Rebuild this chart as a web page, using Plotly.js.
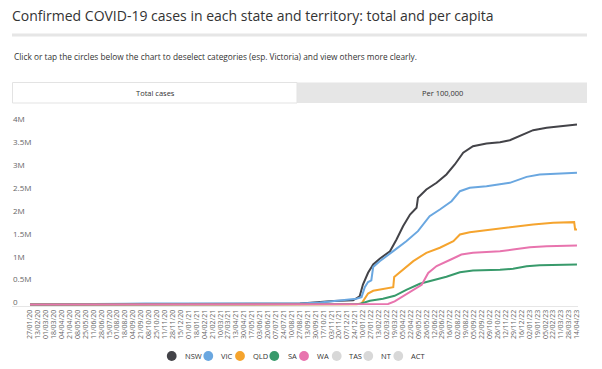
<!DOCTYPE html>
<html>
<head>
<meta charset="utf-8">
<script src="https://cdn.plot.ly/plotly-3.0.1.min.js"></script>
<style>html,body{margin:0;padding:0;background:#fff;}#chart{width:602px;height:369px;}</style>
</head>
<body>
<div id="chart"></div>
<script>
// ---------- data (cumulative confirmed cases) ----------
const nswDates = ['2020-01-27','2020-03-20','2020-04-20','2020-12-31','2021-06-20','2021-07-20','2021-08-28','2021-09-20','2021-10-10','2021-11-07','2021-12-20','2021-12-27','2022-01-03','2022-01-10','2022-01-21','2022-02-01','2022-02-15','2022-03-09','2022-03-23','2022-04-06','2022-04-21','2022-05-05','2022-05-08','2022-05-26','2022-06-17','2022-07-08','2022-07-26','2022-08-13','2022-09-03','2022-10-02','2022-10-31','2022-11-21','2022-12-12','2023-01-10','2023-02-08','2023-03-15','2023-04-14'];
const nswCases = [0,1000,3000,5000,5500,8000,20000,40000,60000,75000,90000,130000,181000,437000,693000,874000,999000,1165000,1421000,1711000,1967000,2114000,2332000,2514000,2660000,2842000,3060000,3316000,3460000,3519000,3548000,3591000,3679000,3810000,3862000,3897000,3934000];

const vicDates = ['2020-01-27','2020-06-20','2020-07-10','2020-07-31','2020-08-20','2020-09-30','2021-08-01','2021-08-28','2021-10-10','2021-11-07','2021-12-27','2022-01-07','2022-01-14','2022-01-21','2022-01-28','2022-02-01','2022-02-15','2022-03-16','2022-04-13','2022-05-08','2022-06-02','2022-06-24','2022-07-19','2022-08-06','2022-08-27','2022-10-02','2022-11-21','2022-12-27','2023-01-24','2023-04-14'];
const vicCases = [0,1800,3500,9000,17000,20000,20800,21500,45000,72000,125000,160000,380000,490000,530000,820000,947000,1166000,1384000,1603000,1930000,2077000,2258000,2477000,2550000,2586000,2659000,2790000,2842000,2879000];

const qldDates = ['2020-01-27','2021-12-20','2021-12-27','2022-01-07','2022-01-14','2022-01-21','2022-02-01','2022-03-02','2022-03-16','2022-03-18','2022-04-06','2022-04-28','2022-05-26','2022-06-24','2022-07-23','2022-08-06','2022-08-27','2022-10-02','2022-11-21','2023-01-10','2023-02-22','2023-04-08','2023-04-10','2023-04-14'];
const qldCases = [0,1000,3000,20000,120000,240000,300000,364000,380000,600000,765000,947000,1130000,1240000,1385000,1530000,1580000,1625000,1677000,1749000,1786000,1800000,1640000,1640000];

const saDates = ['2020-01-27','2021-12-20','2022-01-03','2022-01-25','2022-02-22','2022-03-19','2022-04-13','2022-05-12','2022-06-10','2022-07-08','2022-08-06','2022-09-03','2022-10-31','2022-11-28','2022-12-27','2023-01-24','2023-04-14'];
const saCases = [0,1000,10000,80000,125000,190000,320000,452000,531000,605000,706000,743000,758000,780000,837000,859000,874000];

const waDates = ['2020-01-27','2020-04-10','2021-12-31','2022-02-15','2022-03-05','2022-03-19','2022-04-13','2022-05-05','2022-05-16','2022-05-30','2022-06-17','2022-07-21','2022-08-09','2022-09-03','2022-10-31','2022-11-28','2023-01-03','2023-02-08','2023-04-14'];
const waCases = [0,500,1200,3000,10000,70000,220000,365000,430000,690000,840000,1000000,1093000,1130000,1166000,1202000,1253000,1275000,1290000];

// hidden (deselected) series
const tasDates = ['2020-01-27','2021-12-20','2022-01-15','2022-03-01','2022-05-01','2022-08-01','2022-12-31','2023-04-14'];
const tasCases = [0,100,15000,50000,150000,250000,280000,295000];
const ntDates = ['2020-01-27','2021-11-15','2022-01-20','2022-04-01','2022-08-01','2023-04-14'];
const ntCases = [0,100,20000,50000,90000,105000];
const actDates = ['2020-01-27','2021-08-15','2021-11-01','2022-01-15','2022-04-01','2022-08-01','2023-04-14'];
const actCases = [0,100,1900,30000,90000,190000,245000];

const seriesNames = ['NSW','VIC','QLD','SA','WA','TAS','NT','ACT'];
const seriesDates = [nswDates,vicDates,qldDates,saDates,waDates,tasDates,ntDates,actDates];
const seriesCases = [nswCases,vicCases,qldCases,saCases,waCases,tasCases,ntCases,actCases];
const seriesShown = [true,true,true,true,true,false,false,false];

const xTickLabels = ['27/01/20','13/02/20','01/03/20','18/03/20','04/04/20','21/04/20','08/05/20','25/05/20','11/06/20','28/06/20','15/07/20','01/08/20','18/08/20','04/09/20','21/09/20','08/10/20','25/10/20','11/11/20','28/11/20','15/12/20','01/01/21','18/01/21','04/02/21','21/02/21','10/03/21','27/03/21','13/04/21','30/04/21','17/05/21','03/06/21','20/06/21','07/07/21','24/07/21','10/08/21','27/08/21','13/09/21','30/09/21','17/10/21','03/11/21','20/11/21','07/12/21','24/12/21','10/01/22','27/01/22','13/02/22','02/03/22','19/03/22','05/04/22','22/04/22','09/05/22','26/05/22','12/06/22','29/06/22','16/07/22','02/08/22','19/08/22','05/09/22','22/09/22','09/10/22','26/10/22','12/11/22','29/11/22','16/12/22','02/01/23','19/01/23','05/02/23','22/02/23','11/03/23','28/03/23','14/04/23'];
const yTickVals = [0,500000,1000000,1500000,2000000,2500000,3000000,3500000,4000000];
const yTickText = ['0','0.5M','1M','1.5M','2M','2.5M','3M','3.5M','4M'];

const titleText = 'Confirmed COVID-19 cases in each state and territory: total and per capita';
const subtitleText = 'Click or tap the circles below the chart to deselect categories (esp. Victoria) and view others more clearly.';
const tabLabels = ['Total cases','Per 100,000'];

// ---------- style ----------
const colors = ['#434348','#6aa7e0','#f5a42e','#389a6b','#e874ae','#d8d8d8','#d8d8d8','#d8d8d8'];
const FONT = '"Open Sans", sans-serif';
const L = 12, R = 578, T = 110, B = 306;
const W = R - L, H = B - T;
const px = x => (x - L) / W;
const py = y => (B - y) / H;
const toIso = s => { const p = s.split('/'); return '20' + p[2] + '-' + p[1] + '-' + p[0]; };

const traces = seriesNames.map((n, i) => ({
  type: 'scatter', mode: 'lines', name: n,
  x: seriesDates[i], y: seriesCases[i],
  line: {color: colors[i], width: 2},
  visible: seriesShown[i] ? true : 'legendonly',
  showlegend: false,
  hovertemplate: '%{x|%d/%m/%y}<br>' + n + ': %{y:,}<extra></extra>'
}));

const shapes = [
  {type:'rect', xref:'paper', yref:'paper', x0:px(12), x1:px(587), y0:py(36.5), y1:py(33.5), fillcolor:'#e6e6e6', line:{width:0}},
  {type:'rect', xref:'paper', yref:'paper', x0:px(297), x1:px(587), y0:py(103), y1:py(82.5), fillcolor:'#e6e6e6', line:{width:0}},
  {type:'rect', xref:'paper', yref:'paper', x0:px(12.5), x1:px(297), y0:py(103), y1:py(82.5), fillcolor:'#ffffff', line:{width:1, color:'#e3e3e3'}}
];
const annotations = [
  {xref:'paper', yref:'paper', x:px(12), y:py(57), xanchor:'left', yanchor:'middle', showarrow:false, text:subtitleText, font:{family:FONT, size:8.3, color:'#333'}},
  {xref:'paper', yref:'paper', x:px(155), y:py(92.5), xanchor:'center', yanchor:'middle', showarrow:false, text:tabLabels[0], font:{family:FONT, size:7.5, color:'#333'}},
  {xref:'paper', yref:'paper', x:px(442), y:py(92.5), xanchor:'center', yanchor:'middle', showarrow:false, text:tabLabels[1], font:{family:FONT, size:7.5, color:'#333'}}
];
// legend row (circles + labels)
const legendCx = [171.7,208.3,240,274.3,304,336.7,368.3,398.3];
const legendTx = [183.3,219,250.7,286,315,346.7,379.3,409.3];
const legendY = 356, rad = 4.9;
seriesNames.forEach((n, i) => {
  shapes.push({type:'circle', xref:'paper', yref:'paper', x0:px(legendCx[i]-rad), x1:px(legendCx[i]+rad), y0:py(legendY+rad), y1:py(legendY-rad), fillcolor:colors[i], line:{width:0}});
  annotations.push({xref:'paper', yref:'paper', x:px(legendTx[i]), y:py(legendY), xanchor:'left', yanchor:'middle', showarrow:false, text:n, font:{family:FONT, size:7.5, color:'#333'}});
});

const layout = {
  width: 602, height: 369,
  margin: {l: L, r: 602 - R, t: T, b: 369 - B, pad: 0},
  paper_bgcolor: '#fff', plot_bgcolor: '#fff',
  showlegend: false,
  title: {text: titleText, xref:'container', yref:'container', x: 12/602, y: 1 - 16/369, xanchor:'left', yanchor:'middle', font:{family:FONT, size:14, color:'#333'}},
  xaxis: {
    type:'date', range:['2019-12-19 10:00','2023-04-16 05:00'],
    tickmode:'array', tickvals: xTickLabels.map(toIso), ticktext: xTickLabels,
    tickangle:-90, ticklabeloverflow:'allow',
    tickfont:{family:FONT, size:7, color:'#666'},
    showgrid:false, zeroline:false, showline:true, linecolor:'#e6e6e6', linewidth:1, ticks:'',
    fixedrange:true
  },
  yaxis: {
    range:[-32800, 4251400],
    tickmode:'array', tickvals:yTickVals, ticktext:yTickText,
    ticklabelposition:'inside', ticklabeloverflow:'allow', ticklabelshift:-2, ticklabelstandoff:-2, ticks:'',
    tickfont:{family:FONT, size:8, color:'#666'},
    showgrid:false, zeroline:false, showline:false, fixedrange:true
  },
  shapes: shapes, annotations: annotations
};
Plotly.newPlot('chart', traces, layout, {displayModeBar:false, responsive:false});
</script>
</body>
</html>
